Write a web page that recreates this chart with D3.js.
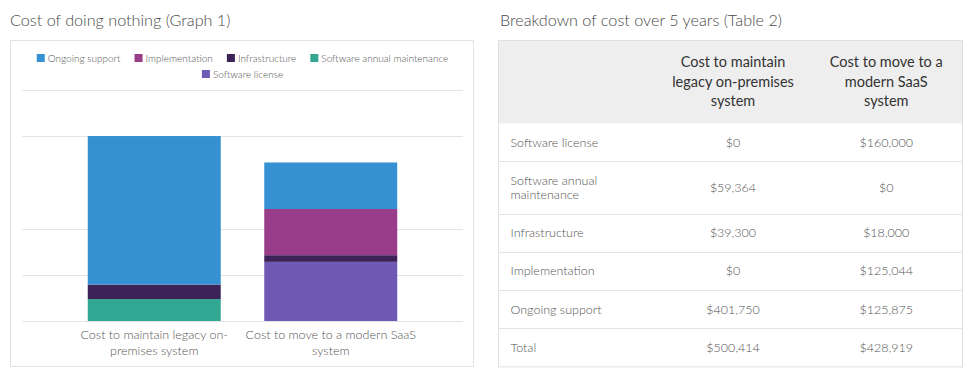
<!DOCTYPE html>
<html>
<head>
<meta charset="utf-8">
<script src="https://cdn.jsdelivr.net/npm/d3@7"></script>
<style>
  body { margin: 0; background: #fff; }
  svg { display: block; }
</style>
</head>
<body>
<svg id="chart" width="971" height="378"></svg>
<script>
const categories = ["Cost to maintain legacy on-premises system", "Cost to move to a modern SaaS system"];
// stack order, bottom to top
const seriesNames = ["Software license", "Software annual maintenance", "Infrastructure", "Implementation", "Ongoing support"];
const legacyValues = [0, 59364, 39300, 0, 401750];
const saasValues = [160000, 0, 18000, 125044, 125875];
const seriesColors = ["#6e59b5", "#31a794", "#3d2257", "#993c8a", "#3591d1"];
const gridTicks = [0, 125000, 250000, 500000, 625000];
const graphTitle = "Cost of doing nothing (Graph 1)";
const tableTitle = "Breakdown of cost over 5 years (Table 2)";
const totalLabel = "Total";

const FONT = '"Source Sans Pro", Lato, "Open Sans", sans-serif';
const svg = d3.select("#chart").style("font-family", FONT);
const fmt = v => "$" + d3.format(",")(v);

// split text into lines no wider than maxW
function wrapLines(text, maxW, size, weight, hyphens) {
	const probe = svg.append("text").attr("font-size", size).attr("font-weight", weight);
	const tokens = hyphens ? text.match(/[^\s-]+-?/g) : text.split(/\s+/);
	const lines = [];
	let cur = "";
	tokens.forEach(tok => {
		const sep = cur === "" || cur.endsWith("-") ? "" : " ";
		const trial = cur + sep + tok;
		probe.text(trial);
		if (cur !== "" && probe.node().getComputedTextLength() > maxW) {
			lines.push(cur);
			cur = tok;
		} else {
			cur = trial;
		}
	});
	lines.push(cur);
	probe.remove();
	return lines;
}

// ---------- titles
svg.append("text").attr("x", 10).attr("y", 26)
	.attr("font-size", 16.2).attr("font-weight", 300).attr("fill", "#4a4a4a")
	.text(graphTitle);
svg.append("text").attr("x", 500).attr("y", 26)
	.attr("font-size", 16.2).attr("font-weight", 300).attr("fill", "#4a4a4a")
	.text(tableTitle);

// ---------- graph panel
svg.append("rect")
	.attr("x", 10.5).attr("y", 40.5).attr("width", 463).attr("height", 326)
	.attr("fill", "none").attr("stroke", "#e2e2e2");

const y = d3.scaleLinear().domain([0, 625000]).range([321, 90]);
const x = d3.scaleBand().domain(categories).range([22, 463])
	.paddingInner(0.2465).paddingOuter(0.3726);
const color = d3.scaleOrdinal().domain(seriesNames).range(seriesColors);

svg.append("g").attr("class", "grid")
	.selectAll("line").data(gridTicks).enter().append("line")
	.attr("x1", 22).attr("x2", 463)
	.attr("y1", d => Math.round(y(d)) + 0.5).attr("y2", d => Math.round(y(d)) + 0.5)
	.attr("stroke", "#e4e4e4");

const rows = categories.map((c, i) => {
	const r = { category: c };
	seriesNames.forEach((s, j) => { r[s] = (i === 0 ? legacyValues : saasValues)[j]; });
	return r;
});
const stacked = d3.stack().keys(seriesNames)(rows);

svg.append("g").attr("class", "bars")
	.selectAll("g").data(stacked).enter().append("g")
	.attr("fill", d => color(d.key))
	.selectAll("rect").data(d => d).enter().append("rect")
	.attr("x", d => x(d.data.category))
	.attr("width", x.bandwidth())
	.attr("y", d => y(d[1]))
	.attr("height", d => y(d[0]) - y(d[1]));

// x axis labels
const xAxis = svg.append("g").attr("transform", "translate(0,321)")
	.call(d3.axisBottom(x).tickSize(0).tickPadding(8));
xAxis.select(".domain").remove();
xAxis.selectAll("text")
	.attr("font-family", FONT).attr("font-size", 12.5).attr("font-weight", 300).attr("fill", "#555")
	.each(function(d) {
		const t = d3.select(this);
		const lines = wrapLines(d, 178, 12.5, 300, true);
		t.text(null).attr("dy", null);
		lines.forEach((ln, i) => {
			t.append("tspan").attr("x", 0).attr("y", 17.5 + i * 16).text(ln);
		});
	});

// legend
const legendItems = seriesNames.slice().reverse();
const legend = svg.append("g").attr("class", "legend");
const items = legend.selectAll("g").data(legendItems).enter().append("g");
items.append("rect").attr("width", 8).attr("height", 8).attr("y", -4.5).attr("fill", d => color(d));
items.append("text").attr("x", 11).attr("y", 3.5)
	.attr("font-size", 10).attr("font-weight", 300).attr("fill", "#555")
	.text(d => d);
const widths = [];
items.select("text").each(function() { widths.push(11 + this.getComputedTextLength()); });
const legendRows = [[]];
let rowW = 0;
widths.forEach((w, i) => {
	const add = rowW === 0 ? w : rowW + 14 + w;
	if (add > 430 && rowW > 0) { legendRows.push([i]); rowW = w; }
	else { legendRows[legendRows.length - 1].push(i); rowW = add; }
});
legendRows.forEach((r, ri) => {
	const total = d3.sum(r, i => widths[i]) + 14 * (r.length - 1);
	let cx = 242.5 - total / 2;
	r.forEach(i => {
		items.filter((d, k) => k === i).attr("transform", `translate(${cx},${58.5 + ri * 16})`);
		cx += widths[i] + 14;
	});
});

// ---------- table
const tx0 = 498, tx1 = 963;
const colEdges = [tx0, 656.5, 809.5, tx1];
const headerTop = 40, headerBottom = 123;
const table = svg.append("g").attr("class", "table");

table.append("rect")
	.attr("x", tx0 + 0.5).attr("y", headerTop + 0.5)
	.attr("width", tx1 - tx0 - 1).attr("height", headerBottom - headerTop)
	.attr("fill", "#eeeeee");

// header cells
categories.forEach((c, i) => {
	const cx = (colEdges[i + 1] + colEdges[i + 2]) / 2;
	const lines = wrapLines(c, 128, 14.5, 400, false);
	const t = table.append("text").attr("text-anchor", "middle")
		.attr("font-size", 14.5).attr("fill", "#333");
	const firstY = (headerTop + headerBottom) / 2 - (lines.length - 1) * 19.5 / 2 + 5;
	lines.forEach((ln, k) => {
		t.append("tspan").attr("x", cx).attr("y", firstY + k * 19.5).text(ln);
	});
});

const tableData = seriesNames.map((s, j) => ({ label: s, a: legacyValues[j], b: saasValues[j] }));
tableData.push({ label: totalLabel, a: d3.sum(legacyValues), b: d3.sum(saasValues) });

let rowTop = headerBottom;
tableData.forEach((r, idx) => {
	const lines = wrapLines(r.label, 133, 12.5, 300, false);
	const h = 24 + lines.length * 14.2;
	const mid = rowTop + h / 2;
	if (idx > 0) {
		table.append("line").attr("x1", tx0).attr("x2", tx1)
			.attr("y1", Math.round(rowTop) + 0.5).attr("y2", Math.round(rowTop) + 0.5)
			.attr("stroke", "#e4e4e4");
	}
	const lab = table.append("text").attr("font-size", 12.5).attr("font-weight", 300).attr("fill", "#555");
	lines.forEach((ln, k) => {
		lab.append("tspan").attr("x", 510.5)
			.attr("y", mid - (lines.length - 1) * 14 / 2 + k * 14 + 4.5).text(ln);
	});
	[r.a, r.b].forEach((v, k) => {
		table.append("text").attr("text-anchor", "middle")
			.attr("x", (colEdges[k + 1] + colEdges[k + 2]) / 2).attr("y", mid + 4.5)
			.attr("font-size", 12.5).attr("font-weight", 300).attr("fill", "#555")
			.text(fmt(v));
	});
	rowTop += h;
});

table.append("rect")
	.attr("x", tx0 + 0.5).attr("y", headerTop + 0.5)
	.attr("width", tx1 - tx0 - 1).attr("height", rowTop - headerTop)
	.attr("fill", "none").attr("stroke", "#e0e0e0");
</script>
</body>
</html>
